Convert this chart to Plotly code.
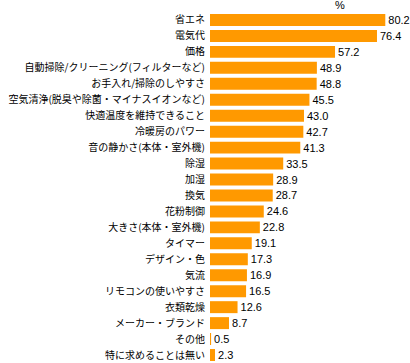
import plotly.graph_objects as go

categories = ["省エネ", "電気代", "価格", "自動掃除/クリーニング(フィルターなど)", "お手入れ/掃除のしやすさ",
              "空気清浄(脱臭や除菌・マイナスイオンなど)", "快適温度を維持できること", "冷暖房のパワー",
              "音の静かさ(本体・室外機)", "除湿", "加湿", "換気", "花粉制御", "大きさ(本体・室外機)",
              "タイマー", "デザイン・色", "気流", "リモコンの使いやすさ", "衣類乾燥", "メーカー・ブランド",
              "その他", "特に求めることは無い"]
values = [80.2, 76.4, 57.2, 48.9, 48.8, 45.5, 43.0, 42.7, 41.3, 33.5, 28.9, 28.7, 24.6, 22.8,
          19.1, 17.3, 16.9, 16.5, 12.6, 8.7, 0.5, 2.3]
value_labels = [f"{v:.1f}" for v in values]

fig = go.Figure()
fig.add_trace(go.Bar(x=values, y=categories, orientation="h",
                     marker=dict(color="#FF9900", line=dict(width=0)), hoverinfo="skip",
                     text=value_labels, textposition="outside", constraintext="none",
                     cliponaxis=False,
                     outsidetextfont=dict(family="Liberation Sans Narrow, Arial Narrow, Liberation Sans",
                                          size=11, color="#000")))
fig.update_layout(
    width=410, height=363,
    margin=dict(l=210, r=0, t=12, b=0),
    paper_bgcolor="white", plot_bgcolor="white",
    showlegend=False, bargap=0.25, hovermode=False,
    xaxis=dict(range=[0, 91.5], visible=False, fixedrange=True),
    yaxis=dict(autorange="reversed", showgrid=False, zeroline=False, showline=False,
               ticks="", ticklabelstandoff=4, automargin=False, fixedrange=True,
               tickfont=dict(family="Noto Sans CJK JP", size=10, color="#000")),
    annotations=[dict(text="%", x=0.65, y=1, xref="paper", yref="paper", xanchor="center",
                      yanchor="middle", yshift=7, showarrow=False,
                      font=dict(family="Liberation Sans, Arial", size=11, color="#000"))],
)
fig.write_html("out.html", config={"displayModeBar": False, "staticPlot": True},
               post_script="document.body.style.margin='0';document.body.style.overflow='hidden';")
